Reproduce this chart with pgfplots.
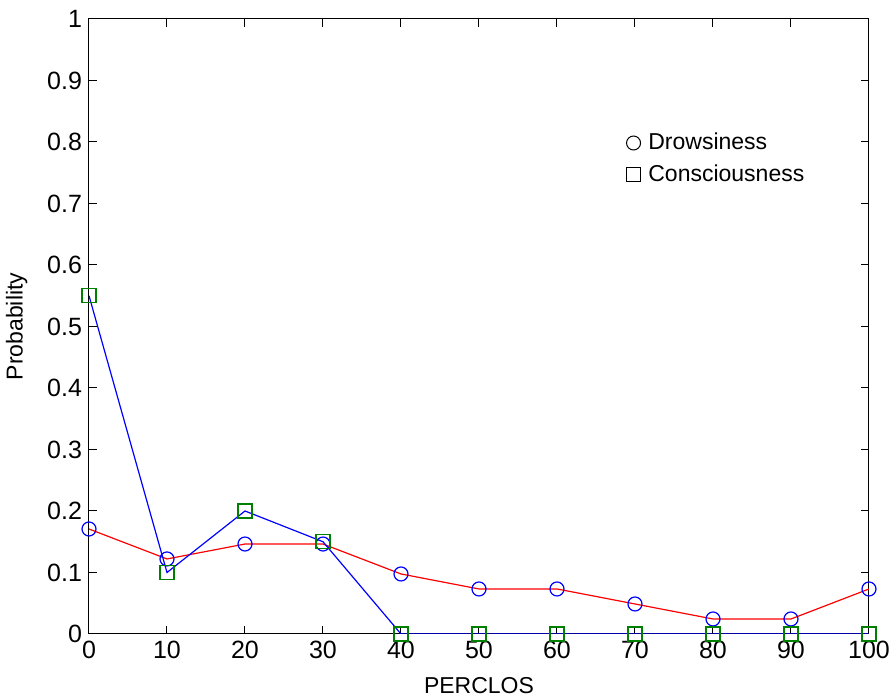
\documentclass[border=0pt]{standalone}
\usepackage{fontspec}
\setmainfont{Liberation Sans}
\usepackage{pgfplots}
\pgfplotsset{compat=1.18}
\definecolor{mblue}{rgb}{0,0,1}
\definecolor{mred}{rgb}{1,0,0}
\definecolor{mgreen}{rgb}{0,0.5,0}
\begin{document}
\begin{tikzpicture}
\begin{axis}[
  name=main,
  scale only axis,
  width=390pt, height=307.5pt,
  xmin=0, xmax=100, ymin=0, ymax=1,
  xtick={0,10,...,100},
  ytick={0,0.1,...,1},
  yticklabels={0,0.1,0.2,0.3,0.4,0.5,0.6,0.7,0.8,0.9,1},
  tick align=inside,
  major tick length=4pt,
  tick style={black, line width=0.5pt},
  axis line style={black, line width=0.5pt},
  /pgf/number format/assume math mode=true,
  ticklabel style={font=\fontsize{12.5}{14}\selectfont},
  label style={font=\fontsize{11.5}{13}\selectfont},
  xlabel={PERCLOS}, ylabel={Probability},
  xlabel style={yshift=-2.5pt},
  ylabel style={yshift=3pt},
  legend style={draw=none, fill=none, at={(0.679,0.828)}, anchor=north west,
    font=\fontsize{11.5}{13}\selectfont, row sep=2pt,
    legend cell align=left},
  legend image code/.code={
    \path[draw=none, fill=none] (0cm,0cm) -- (0.34cm,0cm);
    \draw[#1] plot coordinates {(0.15cm,0cm)};},
]
\addlegendimage{only marks, mark=o, black, mark size=3.5pt, line width=0.5pt}
\addlegendentry{Drowsiness}
\addlegendimage{only marks, mark=square, black, mark size=3.5pt, line width=0.5pt}
\addlegendentry{Consciousness}
% Drowsiness: red line, blue circles
\addplot[mred, line width=0.6pt, forget plot] coordinates {
 (0,0.1707) (10,0.1220) (20,0.1463) (30,0.1463) (40,0.0976) (50,0.0732)
 (60,0.0732) (70,0.0488) (80,0.0244) (90,0.0244) (100,0.0732)};
\addplot[only marks, mark=o, mblue, mark size=3.5pt, line width=0.6pt, forget plot] coordinates {
 (0,0.1707) (10,0.1220) (20,0.1463) (30,0.1463) (40,0.0976) (50,0.0732)
 (60,0.0732) (70,0.0488) (80,0.0244) (90,0.0244) (100,0.0732)};
% Consciousness: blue line, green squares
\addplot[mblue, line width=0.6pt, forget plot] coordinates {
 (0,0.55) (10,0.10) (20,0.20) (30,0.15) (40,0) (50,0) (60,0) (70,0) (80,0) (90,0) (100,0)};
\addplot[only marks, mark=square, mgreen, mark size=3.5pt, line width=0.6pt, forget plot] coordinates {
 (0,0.55) (10,0.10) (20,0.20) (30,0.15) (40,0) (50,0) (60,0) (70,0) (80,0) (90,0) (100,0)};
\end{axis}
% fixed page margins around the axis box
\pgfresetboundingbox
\path ([shift={(-44.5pt,-33pt)}]main.south west) rectangle ([shift={(11pt,9.5pt)}]main.north east);
\end{tikzpicture}
\end{document}
